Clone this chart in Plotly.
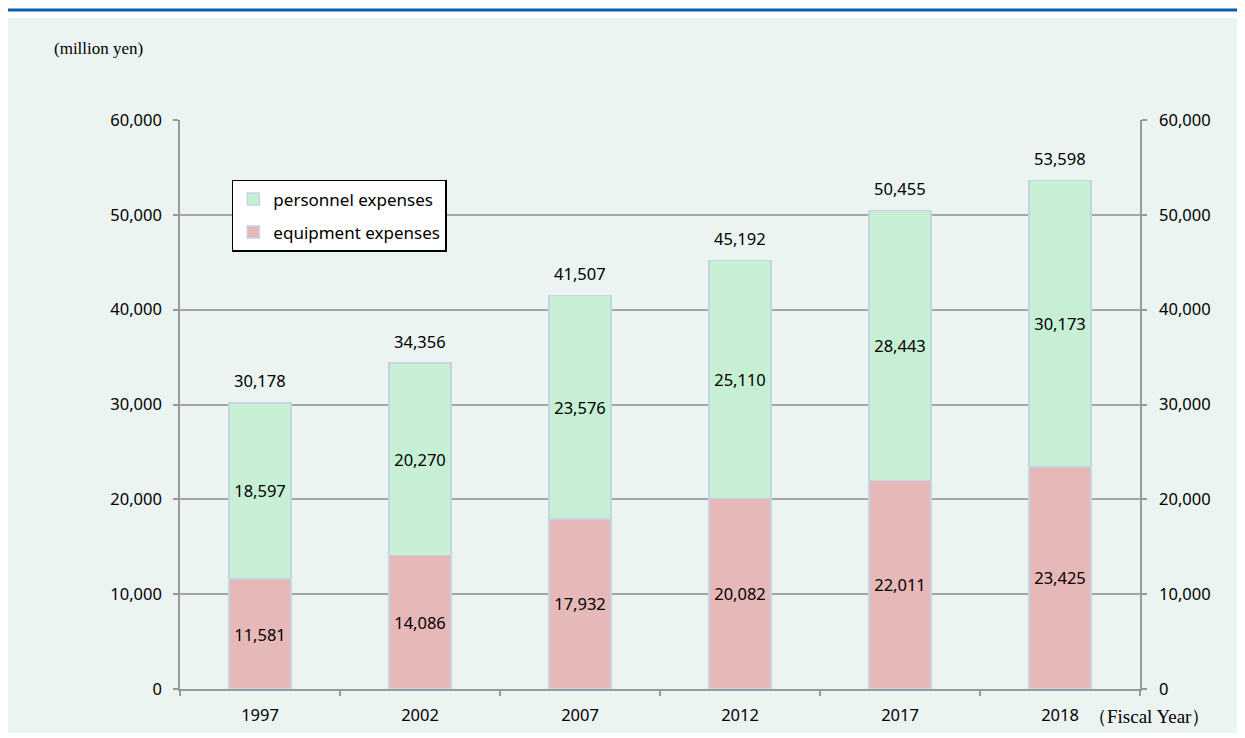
import plotly.graph_objects as go

years = ["1997", "2002", "2007", "2012", "2017", "2018"]
equipment = [11581, 14086, 17932, 20082, 22011, 23425]
personnel = [18597, 20270, 23576, 25110, 28443, 30173]
totals = [30178, 34356, 41507, 45192, 50455, 53598]

FONT = "Noto Sans"
FS = 16.5
fmt = lambda v: f"{v:,}"

fig = go.Figure()
fig.add_trace(go.Bar(
    x=years, y=equipment, name="equipment expenses", legendgroup="e", legendrank=2,
    marker=dict(color="#E6B8B7", line=dict(color="#C5D3E6", width=1.5)),
    text=[fmt(v) for v in equipment], textposition="inside", insidetextanchor="middle",
    textfont=dict(family=FONT, size=FS, color="#000000"), textangle=0,
))
fig.add_trace(go.Bar(
    x=years, y=personnel, name="personnel expenses", legendgroup="p", legendrank=1,
    marker=dict(color="#C6EFD4", line=dict(color="#C5D3E6", width=1.5)),
    text=[fmt(v) for v in personnel], textposition="inside", insidetextanchor="middle",
    textfont=dict(family=FONT, size=FS, color="#000000"), textangle=0,
))
fig.add_trace(go.Scatter(
    x=years, y=totals, mode="markers", marker=dict(opacity=0), yaxis="y2",
    showlegend=False, hoverinfo="skip",
))

axis_common = dict(
    range=[0, 60000], dtick=10000, tickformat=",", showline=True, linecolor="#999999",
    linewidth=1.5, ticks="outside", ticklen=5, tickcolor="#999999", tickwidth=1.5,
    tickfont=dict(family=FONT, size=FS, color="#000000"), zeroline=False,
)

annotations = [
    dict(x=i, y=t, text=fmt(t), xref="x", yref="y", showarrow=False, yshift=22,
         yanchor="middle", font=dict(family=FONT, size=FS, color="#000000"))
    for i, t in enumerate(totals)
]
annotations += [
    dict(text="(million yen)", xref="paper", yref="paper", x=-0.1333, y=1.1265,
         xanchor="left", yanchor="middle", showarrow=False,
         font=dict(family="Liberation Serif", size=17, color="#000000")),
    dict(text="（Fiscal Year）",
         xref="paper", yref="paper", x=0.944, y=-0.0475,
         xanchor="left", yanchor="middle", showarrow=False,
         font=dict(family="Liberation Serif", size=19, color="#000000")),
]

fig.update_layout(
    width=1237, height=730,
    margin=dict(l=172, r=105, t=112, b=49, autoexpand=False),
    paper_bgcolor="#FFFFFF", plot_bgcolor="rgba(0,0,0,0)",
    barmode="stack", bargap=0.61,
    font=dict(family=FONT, size=FS, color="#000000"),
    uniformtext=dict(minsize=10, mode="show"),
    xaxis=dict(
        type="category", range=[-0.5, len(years) - 0.5],
        showline=True, linecolor="#999999", linewidth=1.5,
        ticks="outside", tickson="boundaries", ticklen=5, tickcolor="#999999", tickwidth=1.5,
        tickfont=dict(family=FONT, size=FS, color="#000000"), showgrid=False,
        ticklabelstandoff=10, tickangle=0,
    ),
    yaxis=dict(**axis_common, showgrid=True, gridcolor="#A6A6A6", gridwidth=1.5,
               ticklabelstandoff=8),
    yaxis2=dict(**axis_common, overlaying="y", side="right", showgrid=False, matches="y",
                ticklabelstandoff=9),
    legend=dict(
        x=0.054, y=0.8946, xanchor="left", yanchor="top", traceorder="grouped",
        bgcolor="#FFFFFF", bordercolor="#000000", borderwidth=1.5,
        font=dict(family=FONT, size=17, color="#000000"),
        itemwidth=30, tracegroupgap=8,
    ),
    showlegend=True,
    shapes=[
        dict(type="rect", xref="paper", yref="paper", x0=-0.1802, x1=1.1021, y0=-0.0773, y1=1.1793,
             fillcolor="#EBF4F1", line=dict(width=0), layer="below"),
        dict(type="line", xref="paper", yref="paper", x0=-0.19, x1=1.11, y0=1.1933, y1=1.1933,
             line=dict(color="#0B5CAD", width=3)),
    ],
    annotations=annotations,
)

fig.write_html("out.html")
